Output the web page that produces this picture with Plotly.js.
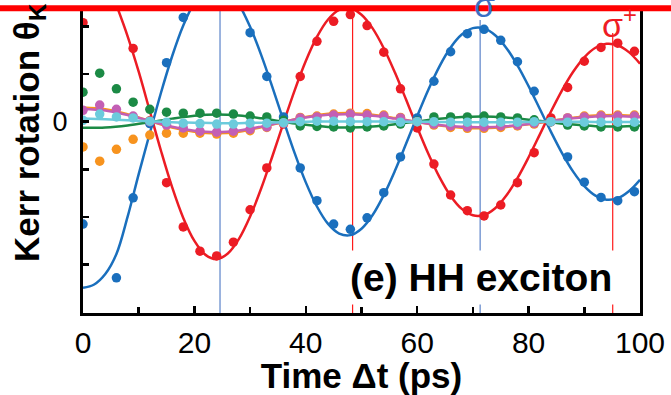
<!DOCTYPE html>
<html><head><meta charset="utf-8">
<script src="https://cdn.plot.ly/plotly-3.0.1.min.js"></script>
<style>html,body{margin:0;padding:0;background:#fff;} #chart{width:671px;height:395px;}</style>
</head><body><div id="chart"></div>
<script>
// ---- data ----
const pointTime = [0,3,6,9,12,15,18,21,24,27,30,33,36,39,42,45,48,51,54,57,60,63,66,69,72,75,78,81,84,87,90,93,96,99];
const redPoints = [2.08,3.3,2.6,1.54,0.02,-1.28,-2.21,-2.72,-2.82,-2.53,-1.85,-0.97,-0.05,0.95,1.69,2.11,2.25,2.02,1.46,0.69,-0.13,-0.89,-1.54,-1.87,-1.98,-1.75,-1.28,-0.65,0.08,0.72,1.27,1.56,1.65,1.48];
const bluePoints = [-2.15,null,-3.28,-1.6,-0.04,1.24,2.19,2.7,2.9,2.6,1.87,0.95,0.1,-0.97,-1.66,-2.15,-2.26,-2.02,-1.49,-0.74,0.08,0.85,1.47,1.85,1.94,1.71,1.26,0.64,0.0,-0.74,-1.27,-1.59,-1.66,-1.47];
const greenPoints = [0.62,1.02,0.69,0.41,0.26,0.2,0.18,0.18,0.18,0.16,0.12,0.1,0.03,-0.09,-0.1,-0.11,-0.13,-0.11,-0.09,-0.05,0.01,0.1,0.1,0.1,0.12,0.1,0.08,0.04,0.0,-0.07,-0.09,-0.11,-0.11,-0.11];
const orangePoints = [-0.53,-0.83,-0.58,-0.37,-0.28,-0.24,-0.24,-0.24,-0.26,-0.24,-0.19,-0.12,-0.03,0.09,0.12,0.16,0.18,0.17,0.14,0.09,0.0,-0.07,-0.12,-0.14,-0.14,-0.12,-0.09,-0.05,0.0,0.08,0.12,0.14,0.14,0.14];
const purplePoints = [0.24,0.35,0.26,0.12,0.0,-0.07,-0.13,-0.2,-0.22,-0.2,-0.16,-0.11,-0.03,0.08,0.1,0.14,0.16,0.14,0.12,0.08,0.0,-0.05,-0.09,-0.11,-0.11,-0.09,-0.07,-0.03,0.0,0.08,0.1,0.12,0.12,0.12];
const cyanPoints = [0.03,0.16,0.1,0.08,0.01,-0.01,-0.03,-0.04,-0.05,-0.05,-0.03,-0.03,-0.02,0.0,0.01,0.01,0.0,0.0,0.0,-0.01,0.0,0.0,-0.01,-0.01,-0.01,-0.01,-0.01,0.0,0.0,-0.01,-0.01,-0.01,-0.01,-0.01];

const fitTime = [0,2,4,6,8,10,12,14,16,18,20,22,24,26,28,30,32,34,36,38,40,42,44,46,48,50,52,54,56,58,60,62,64,66,68,70,72,74,76,78,80,82,84,86,88,90,92,94,96,98,100];
const redFit = [3.48,3.40,3.05,2.45,1.80,1.05,0.22,-0.61,-1.375,-2.021,-2.504,-2.798,-2.886,-2.770,-2.463,-1.993,-1.399,-0.726,-0.023,0.660,1.275,1.781,2.147,2.350,2.383,2.248,1.960,1.543,1.032,0.465,-0.118,-0.673,-1.164,-1.559,-1.831,-1.966,-1.960,-1.817,-1.551,-1.185,-0.747,-0.271,0.209,0.659,1.049,1.353,1.553,1.638,1.606,1.462,1.220];
const blueFit = [-3.49,-3.42,-3.20,-2.78,-2.00,-1.10,-0.24,0.608,1.375,2.021,2.504,2.798,2.886,2.770,2.463,1.993,1.399,0.726,0.023,-0.660,-1.275,-1.781,-2.147,-2.350,-2.383,-2.248,-1.960,-1.543,-1.032,-0.465,0.118,0.673,1.164,1.559,1.831,1.966,1.960,1.817,1.551,1.185,0.747,0.271,-0.209,-0.659,-1.049,-1.353,-1.553,-1.638,-1.606,-1.462,-1.220];

const smallFitTime = [0,4,8,12,16,20,24,28,32,36,40,44,48,52,56,60,64,68,72,76,80,84,88,92,96,100];
const greenFit = [-0.129,-0.123,-0.080,-0.010,0.065,0.126,0.150,0.128,0.072,0.0,-0.065,-0.109,-0.120,-0.100,-0.053,0.006,0.062,0.099,0.110,0.087,0.043,-0.012,-0.061,-0.093,-0.099,-0.078];
const orangeFit = [0.30,0.26,0.155,0.015,-0.12,-0.21,-0.245,-0.21,-0.115,-0.005,0.10,0.165,0.18,0.148,0.076,-0.008,-0.08,-0.125,-0.135,-0.11,-0.055,0.015,0.085,0.13,0.14,0.11];
const purpleFit = [0.269,0.236,0.142,0.017,-0.105,-0.189,-0.220,-0.185,-0.103,-0.002,0.088,0.144,0.155,0.127,0.065,-0.007,-0.069,-0.108,-0.115,-0.094,-0.047,0.013,0.073,0.111,0.119,0.093];
const cyanFit = [0.07,0.05,0.03,0.01,-0.01,-0.02,-0.03,-0.03,-0.02,-0.01,0.0,0.005,0.005,0.005,0.0,0.0,-0.005,-0.01,-0.01,-0.01,-0.005,0.0,0.0,-0.005,-0.005,-0.005];

const markerTimes = [24.6, 48.4, 71.3, 95.1];
const markerKinds = ['blue','red','blue','red'];
const xMajorTicks = [0,20,40,60,80,100];
const xMinorTicks = [10,30,50,70,90];
const yMajorTicks = [0];
const yMinorTicks = [-3,-2,-1,1,2];

// ---- styles ----
const C = {red:'#ec1c24', blue:'#1a6fbd', green:'#1b8a45', orange:'#f7931e', purple:'#c35fb4', cyan:'#6ccbdc'};
const lineColor = {blue:'#5b83c9', red:'#ff1a1a'};
const lineTop = [1, 1, 0.967, 0.924];
const FONT = 'Liberation Sans, Arial, Helvetica, sans-serif';

function fit(x, y, color) {
  return {x:x, y:y, mode:'lines', line:{color:color, width:2.5, shape:'spline', smoothing:1}, hoverinfo:'skip'};
}
function pts(x, y, color) {
  return {x:x, y:y, mode:'markers', marker:{color:color, size:9.5}, hoverinfo:'skip'};
}

const traces = [
  fit(fitTime, redFit, C.red), pts(pointTime, redPoints, C.red),
  fit(fitTime, blueFit, C.blue), pts(pointTime, bluePoints, C.blue),
  fit(smallFitTime, greenFit, C.green), pts(pointTime, greenPoints, C.green),
  fit(smallFitTime, orangeFit, C.orange), pts(pointTime, orangePoints, C.orange),
  fit(smallFitTime, purpleFit, C.purple), pts(pointTime, purplePoints, C.purple),
  fit(smallFitTime, cyanFit, C.cyan), pts(pointTime, cyanPoints, C.cyan)
];

const shapes = markerTimes.map((t, i) => ({
  type:'line', xref:'x', yref:'paper', x0:t, x1:t, y0:0, y1:lineTop[i],
  line:{color:lineColor[markerKinds[i]], width:1.2}, layer:'below'
}));
shapes.push({type:'line', xref:'paper', yref:'paper', x0:-0.2, x1:1.2, y0:1.006, y1:1.006,
  line:{color:'#ff0000', width:6}, layer:'above'});

const layout = {
  width:671, height:395,
  margin:{l:83, r:31, t:10, b:82},
  paper_bgcolor:'#fff', plot_bgcolor:'#fff',
  showlegend:false,
  xaxis:{
    range:[0,100], tickmode:'array', tickvals:xMajorTicks,
    ticks:'inside', ticklen:7, tickwidth:2.5, tickcolor:'#000',
    minor:{tickmode:'array', tickvals:xMinorTicks, ticks:'inside', ticklen:6, tickwidth:2.5, tickcolor:'#000', showgrid:false},
    showline:true, linewidth:3, linecolor:'#000', mirror:false,
    showgrid:false, zeroline:false,
    tickfont:{family:FONT, size:30, color:'#000'},
    ticklabelstandoff:1,
    title:{text:'Time Δt (ps)', font:{family:FONT, size:35, color:'#000', weight:'bold'}, standoff:2}
  },
  yaxis:{
    range:[-4.019, 2.347], tickmode:'array', tickvals:yMajorTicks,
    ticks:'inside', ticklen:6, tickwidth:2.5, tickcolor:'#000',
    minor:{tickmode:'array', tickvals:yMinorTicks, ticks:'inside', ticklen:6, tickwidth:2.5, tickcolor:'#000', showgrid:false},
    showline:true, linewidth:3, linecolor:'#000', mirror:true,
    showgrid:false, zeroline:false,
    tickfont:{family:FONT, size:27, color:'#000'},
    ticklabelstandoff:7
  },
  shapes:shapes,
  annotations:[
    {text:'Kerr rotation θ<sub>K</sub>', textangle:-90, xref:'paper', yref:'paper',
     x:-0.097, y:0.5974, xanchor:'center', yanchor:'middle', showarrow:false,
     font:{family:FONT, size:35, color:'#000', weight:'bold'}},
    {text:'(e) HH exciton', xref:'paper', yref:'paper', x:0.7154, y:0.1188,
     xanchor:'center', yanchor:'middle', showarrow:false, bgcolor:'#fff', borderpad:5,
     font:{family:FONT, size:39, color:'#000', weight:'bold'}},
    {text:'σ<sup>+</sup>', xref:'paper', yref:'paper', x:0.9282, y:0.960,
     xanchor:'left', yanchor:'middle', showarrow:false,
     font:{family:FONT, size:34, color:'#ee1c24'}},
    {text:'σ<sup>−</sup>', xref:'paper', yref:'paper', x:0.6984, y:1.025,
     xanchor:'left', yanchor:'middle', showarrow:false,
     font:{family:FONT, size:34, color:'#3a6fc4'}}
  ]
};

Plotly.newPlot('chart', traces, layout, {displayModeBar:false, staticPlot:true});
</script>
</body></html>
